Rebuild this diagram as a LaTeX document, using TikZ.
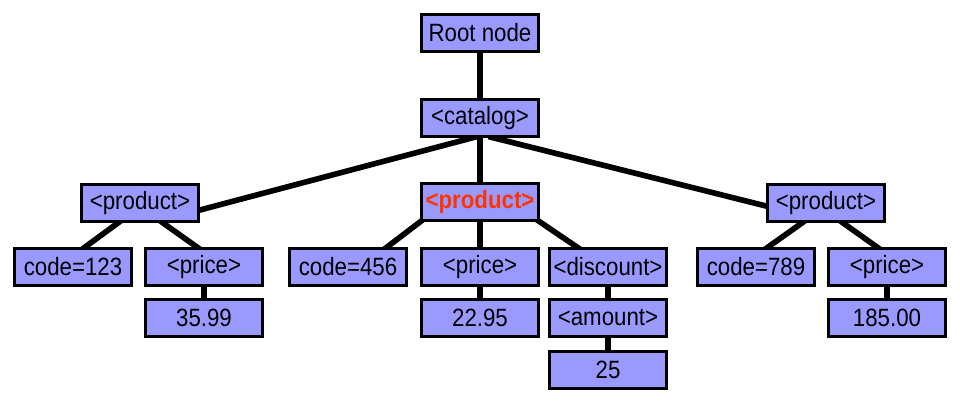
\documentclass[tikz,border=0pt]{standalone}
\usepackage{fontspec}
\setmainfont{Liberation Sans}[FakeStretch=0.89]
\usetikzlibrary{calc,backgrounds}
\definecolor{Lav}{HTML}{9999FF}
\definecolor{Hot}{HTML}{FF3300}
\tikzset{box/.style={draw=black,fill=Lav,line width=2pt,minimum width=2.925cm,minimum height=.925cm,inner sep=0pt,font=\fontsize{17.8}{20}\selectfont},link/.style={line width=4pt,draw=black,shorten <=-4pt,shorten >=-4pt}}
\begin{document}
\begin{tikzpicture}[x=0.025cm,y=-0.025cm]
\useasboundingbox (0,0) rectangle (960,404);
\node[box] (root) at (480,33) {Root node};
\node[box] (catalog) at (480,118) {<catalog>};
\node[box] (prodL) at (140,203) {<product>};
\node[box,text=Hot,font=\fontsize{17.8}{20}\selectfont\bfseries] (prodM) at (480,202) {<product>};
\node[box] (prodR) at (826,203) {<product>};
\node[box] (codeL) at (73,267) {code=123};
\node[box] (priceL) at (204,267) {<price>};
\node[box] (valL) at (204,318) {35.99};
\node[box] (codeM) at (348,267) {code=456};
\node[box] (priceM) at (480,267) {<price>};
\node[box] (valM) at (480,318) {22.95};
\node[box] (discM) at (608,267) {<discount>};
\node[box] (amtM) at (608,318) {<amount>};
\node[box] (amtval) at (608,370) {25};
\node[box] (codeR) at (756,267) {code=789};
\node[box] (priceR) at (887,267) {<price>};
\node[box] (valR) at (887,318) {185.00};
\begin{scope}[on background layer]
\draw[link] (root.south)--(catalog.north);\draw[link] (catalog.south)--(prodM.north);
\draw[link] ($(catalog.south)+(-8,0)$)--($(prodL.east)+(0,7)$);
\draw[link] ($(catalog.south)+(14,0)$)--($(prodR.west)+(0,3)$);
% left product
\draw[link] ($(prodL.south)+(-22,0)$)--($(codeL.north)+(12,0)$);
\draw[link] ($(prodL.south)+(23,0)$)--($(priceL.north)+(-7,0)$);
\draw[link] (priceL.south)--(valL.north);
% middle product
\draw[link] (prodM.south west)--($(codeM.north)+(39,0)$);
\draw[link] (prodM.south)--(priceM.north);
\draw[link] (prodM.south east)--($(discM.north)+(-31,0)$);
\draw[link] (priceM.south)--(valM.north);
\draw[link] (discM.south)--(amtM.north);\draw[link] (amtM.south)--(amtval.north);
% right product
\draw[link] ($(prodR.south)+(-24,0)$)--($(codeR.north)+(12,0)$);
\draw[link] ($(prodR.south)+(17,0)$)--($(priceR.north)+(-10,0)$);
\draw[link] (priceR.south)--(valR.north);
\end{scope}
\end{tikzpicture}
\end{document}
